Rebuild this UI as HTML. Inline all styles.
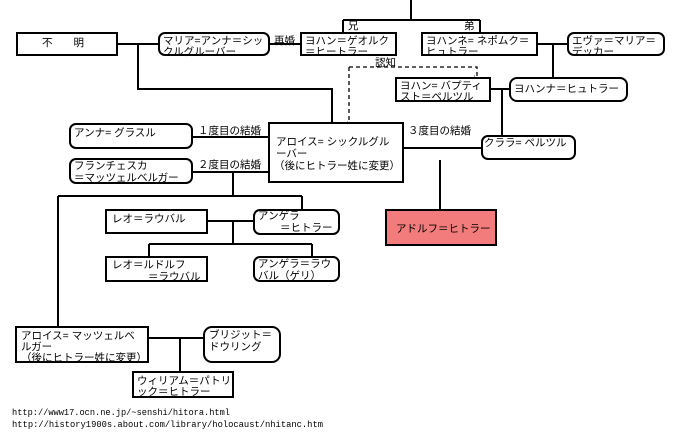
<!DOCTYPE html>
<html><head><meta charset="utf-8"><style>
html,body{margin:0;padding:0;background:#fff;}
svg{display:block;}
text{font-family:"Liberation Sans","Noto Sans CJK JP",sans-serif;font-size:10.5px;fill:#000;}
.m{font-family:"Liberation Mono","Noto Sans CJK JP",monospace;font-size:9px;}
</style></head><body>
<svg width="679" height="439" viewBox="0 0 679 439" xmlns="http://www.w3.org/2000/svg">
<g stroke="#000" stroke-width="2" fill="none">
<path d="M411 0V20M343 20H480M343 20V33M480 20V33"/>
<path d="M117 44H159M138 44V89H332V123"/>
<path d="M269 44H301"/>
<path d="M537 44H568M553 44V78"/>
<path d="M490 89H510M502 89V138"/>
<path d="M192 137H269M192 172H269M403 148H482M440 160V210"/>
<path d="M233 172V196M58 196H302M302 196V210M58 196V327"/>
<path d="M207 221H254M233 221V244M149 244H312M149 244V257M312 244V257"/>
<path d="M148 338H204M180 338V372"/>
</g>
<g stroke="#000" stroke-width="1.3" fill="none" stroke-dasharray="4,3">
<path d="M349 67H477V76M349 67V121"/>
</g>
<text x="472" y="80" style="font-size:9px">↓</text>
<text x="345" y="126" style="font-size:9px">↓</text>
<g stroke="#000" stroke-width="2" fill="#fff">
<rect x="17" y="33" width="100" height="22"/>
<rect x="159" y="33" width="110" height="22" rx="6"/>
<rect x="301" y="33" width="95" height="22"/>
<rect x="422" y="33" width="115" height="22"/>
<rect x="568" y="33" width="96" height="22" rx="6"/>
<rect x="396" y="78" width="94" height="23"/>
<rect x="510" y="78" width="117" height="23" rx="7"/>
<rect x="70" y="124" width="122" height="24" rx="6"/>
<rect x="70" y="159" width="122" height="24" rx="6"/>
<rect x="269" y="123" width="134" height="59"/>
<rect x="482" y="136" width="93" height="23" rx="6"/>
<rect x="106" y="210" width="101" height="23"/>
<rect x="254" y="210" width="85" height="24" rx="6"/>
<rect x="106" y="257" width="101" height="24"/>
<rect x="254" y="257" width="85" height="24" rx="6"/>
<rect x="386" y="210" width="110" height="35" fill="#f27c7c"/>
<rect x="16" y="327" width="132" height="35"/>
<rect x="204" y="327" width="76" height="35" rx="8"/>
<rect x="133" y="372" width="100" height="25"/>
</g>
<text x="42" y="46">不　　明</text>
<text x="163" y="44">マリア=アンナ＝シッ</text><text x="163" y="55">クルグルーバー</text>
<text x="274" y="44">再婚</text>
<text x="305" y="44">ヨハン＝ゲオルク</text><text x="305" y="55">＝ヒートラー</text>
<text x="348" y="29">兄</text><text x="464" y="29">弟</text>
<text x="426" y="44">ヨハンネ= ネポムク＝</text><text x="426" y="55">ヒュトラー</text>
<text x="572" y="44">エヴァ＝マリア＝</text><text x="572" y="55">デッカー</text>
<text x="375" y="66">認知</text>
<text x="400" y="89">ヨハン= バプティ</text><text x="400" y="100">スト＝ペルツル</text>
<text x="514" y="92">ヨハンナ＝ヒュトラー</text>
<text x="74" y="136">アンナ= グラスル</text>
<text x="198" y="134">１度目の結婚</text>
<text x="74" y="169">フランチェスカ</text><text x="74" y="181">＝マッツェルベルガー</text>
<text x="198" y="168">２度目の結婚</text>
<text x="276" y="145">アロイス= シックルグル</text><text x="276" y="157">ーバー</text><text x="274" y="169">（後にヒトラー姓に変更）</text>
<text x="408" y="134">３度目の結婚</text>
<text x="484" y="146">クララ= ペルツル</text>
<text x="396" y="232">アドルフ＝ヒトラー</text>
<text x="112" y="222">レオ＝ラウバル</text>
<text x="258" y="219">アンゲラ</text><text x="280" y="231">＝ヒトラー</text>
<text x="112" y="268">レオ＝ルドルフ</text><text x="148" y="280">＝ラウバル</text>
<text x="258" y="267">アンゲラ＝ラウ</text><text x="258" y="279">バル（ゲリ）</text>
<text x="21" y="339">アロイス= マッツェルベ</text><text x="21" y="350">ルガー</text><text x="21" y="361">（後にヒトラー姓に変更）</text>
<text x="209" y="338">ブリジット＝</text><text x="209" y="350">ドウリング</text>
<text x="137" y="384">ウィリアム＝パトリ</text><text x="137" y="395">ック＝ヒトラー</text>
<text class="m" x="12" y="415" textLength="218" lengthAdjust="spacingAndGlyphs">http://www17.ocn.ne.jp/~senshi/hitora.html</text>
<text class="m" x="12" y="427" textLength="311" lengthAdjust="spacingAndGlyphs">http://history1900s.about.com/library/holocaust/nhitanc.htm</text>
</svg>
</body></html>
